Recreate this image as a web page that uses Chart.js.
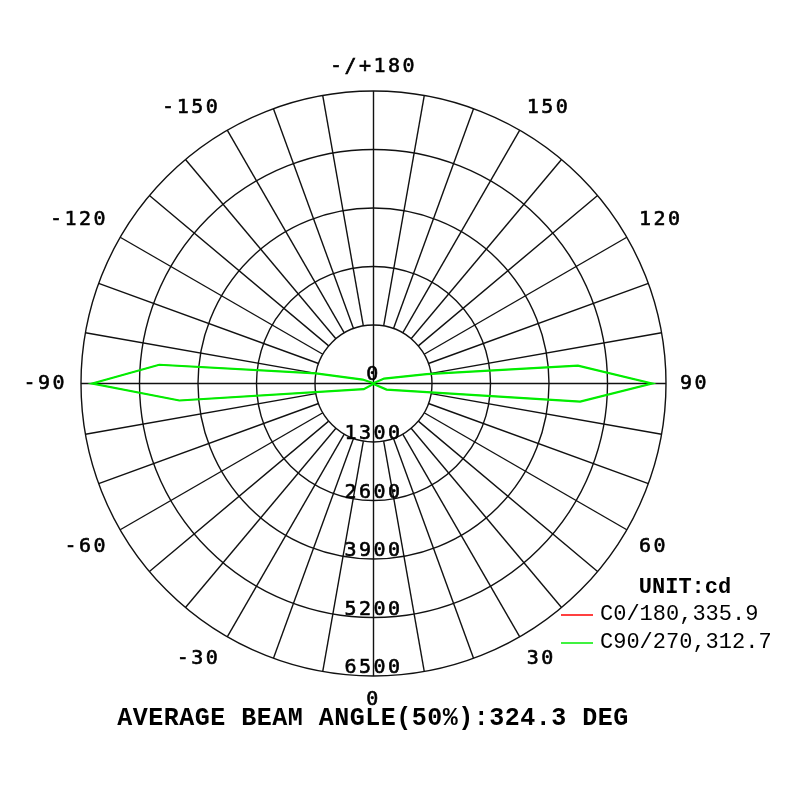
<!DOCTYPE html>
<html>
<head>
<meta charset="utf-8">
<script src="https://cdn.jsdelivr.net/npm/chart.js@4.4.1/dist/chart.umd.min.js"></script>
<style>
  html, body { margin: 0; padding: 0; background: #fff; }
  #wrap { width: 800px; height: 800px; }
</style>
</head>
<body>
<div id="wrap"><canvas id="polar"></canvas></div>
<script>
// 光强环刻度 (cd)
const ringValues = [1300, 2600, 3900, 5200, 6500];
// 角度刻度
const angleTicks = [180, 150, 120, 90, 60, 30, 0, -30, -60, -90, -120, -150];
const angleLabels = ['-/+180', '150', '120', '90', '60', '30', '0', '-30', '-60', '-90', '-120', '-150'];

// C90/270 平面: 角度 (deg) 与光强 (cd)
const c90Angles = [-180, -135, -110, -100, -95, -90, -85, -60, -20, 0, 20, 65, 85, 90, 95, 100, 115, 135, 180];
const c90Values = [10, 15, 255, 1300, 4780, 6250, 4330, 250, 15, 10, 15, 320, 4610, 6190, 4560, 1200, 260, 15, 10];

// C0/180 平面 (被绿线完全覆盖)
const c0Angles = [-180, -135, -110, -100, -95, -90, -85, -60, -20, 0, 20, 65, 85, 90, 95, 100, 115, 135, 180];
const c0Values = [10, 15, 255, 1300, 4780, 6250, 4330, 250, 15, 10, 15, 320, 4610, 6190, 4560, 1200, 260, 15, 10];

const legendNames = ['C0/180,335.9', 'C90/270,312.7'];
const titleText = 'AVERAGE BEAM ANGLE(50%):324.3 DEG';

const maxCd = ringValues[ringValues.length - 1];
const rad = d => d * Math.PI / 180;

// 极坐标 -> 直角坐标 (0 度朝下, 90 度朝右)
function toXY(angles, values) {
  return angles.map((a, i) => ({
    x: values[i] * Math.sin(rad(a)),
    y: -values[i] * Math.cos(rad(a))
  }));
}

const MONO = '"DejaVu Sans Mono", monospace';
const COURIER = '"Courier New", "Liberation Mono", monospace';

// 加粗一点的文字
function heavyText(ctx, txt, x, y) {
  ctx.fillText(txt, x, y);
  ctx.strokeText(txt, x, y);
}

// 极坐标网格和标签
const polarGrid = {
  id: 'polarGrid',
  beforeDatasetsDraw(chart) {
    const { ctx, scales: { x, y } } = chart;
    const cx = x.getPixelForValue(0);
    const cy = y.getPixelForValue(0);
    const rOf = v => x.getPixelForValue(v) - cx;
    const R = rOf(maxCd);
    const r1 = rOf(ringValues[0]);

    ctx.save();
    ctx.strokeStyle = '#111';
    ctx.lineWidth = 1.4;

    ringValues.forEach(v => {
      ctx.beginPath();
      ctx.arc(cx, cy, rOf(v), 0, Math.PI * 2);
      ctx.stroke();
    });

    // 辐射线, 每 10 度
    for (let a = 0; a < 360; a += 10) {
      const s = Math.sin(rad(a)), c = Math.cos(rad(a));
      const from = (a % 90 === 0) ? 0 : r1;
      ctx.beginPath();
      ctx.moveTo(cx + s * from, cy + c * from);
      ctx.lineTo(cx + s * R, cy + c * R);
      ctx.stroke();
    }

    // 角度标签
    ctx.fillStyle = '#000';
    ctx.strokeStyle = '#000';
    ctx.lineWidth = 0.6;
    ctx.font = '20px ' + MONO;
    ctx.letterSpacing = '2.5px';
    const off = R + 14;
    angleTicks.forEach((a, i) => {
      const s = Math.sin(rad(a)), c = Math.cos(rad(a));
      ctx.textAlign = s > 0.01 ? 'left' : (s < -0.01 ? 'right' : 'center');
      ctx.textBaseline = c > 0.01 ? 'top' : (c < -0.01 ? 'bottom' : 'middle');
      heavyText(ctx, angleLabels[i], cx + s * off, cy + c * off);
    });

    // 光强标签
    ctx.textAlign = 'center';
    ctx.textBaseline = 'alphabetic';
    heavyText(ctx, '0', cx, cy - 4);
    ringValues.forEach(v => {
      heavyText(ctx, String(v), cx, cy + rOf(v) - 3);
    });
    ctx.restore();
  },
  afterDraw(chart) {
    const { ctx } = chart;
    ctx.save();
    ctx.fillStyle = '#000';
    ctx.letterSpacing = '0px';

    ctx.font = 'bold 22px ' + COURIER;
    ctx.textAlign = 'center';
    ctx.textBaseline = 'middle';
    ctx.fillText('UNIT:cd', 685, 587);

    const colors = chart.data.datasets.map(d => d.borderColor);
    const ys = [615, 643];
    ctx.font = '22px ' + COURIER;
    ctx.textAlign = 'left';
    legendNames.forEach((name, i) => {
      ctx.strokeStyle = colors[i];
      ctx.lineWidth = 1.5;
      ctx.beginPath();
      ctx.moveTo(561, ys[i]);
      ctx.lineTo(593, ys[i]);
      ctx.stroke();
      ctx.fillText(name, 600, ys[i] - 1);
    });

    ctx.font = 'bold 25px ' + COURIER;
    ctx.letterSpacing = '0.5px';
    ctx.textAlign = 'center';
    ctx.fillText(titleText, 373, 719);
    ctx.restore();
  }
};

new Chart(document.getElementById('polar'), {
  type: 'scatter',
  data: {
    datasets: [{
      label: legendNames[0],
      data: toXY(c0Angles, c0Values),
      borderColor: '#ff0000',
      borderWidth: 1,
      order: 2,
      showLine: true,
      pointRadius: 0,
      tension: 0
    }, {
      label: legendNames[1],
      data: toXY(c90Angles, c90Values),
      borderColor: '#00ee00',
      borderWidth: 2.2,
      order: 1,
      showLine: true,
      pointRadius: 0,
      tension: 0
    }]
  },
  options: {
    responsive: true,
    maintainAspectRatio: false,
    animation: false,
    layout: { padding: { left: 81, right: 134, top: 91, bottom: 124 } },
    plugins: {
      legend: { display: false },
      tooltip: { enabled: false }
    },
    scales: {
      x: { type: 'linear', min: -maxCd, max: maxCd, display: false },
      y: { type: 'linear', min: -maxCd, max: maxCd, display: false }
    }
  },
  plugins: [polarGrid]
});
</script>
</body>
</html>
